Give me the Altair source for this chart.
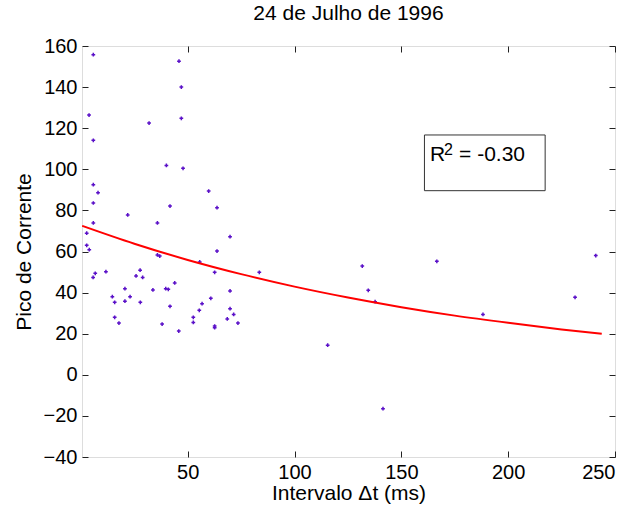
import altair as alt
import pandas as pd

# ---- data ----
dt_ms = [5.8, 45.9, 47.0, 3.8, 31.9, 47.0, 5.8, 40.0, 47.8, 5.8,
         8.0, 59.8, 5.8, 41.7, 63.7, 21.9, 5.8, 35.8, 2.7, 69.8,
         2.7, 3.9, 35.8, 36.9, 63.7, 55.6, 83.5, 62.6, 11.7, 6.7,
         5.7, 27.7, 25.8, 28.9, 43.9, 20.6, 33.7, 39.7, 40.9, 69.8,
         14.7, 23.0, 60.8, 15.8, 20.6, 27.8, 56.7, 41.7, 55.4, 69.8,
         71.5, 15.8, 52.6, 68.5, 17.8, 38.0, 52.6, 62.6, 62.6, 73.5,
         45.8, 131.7, 166.6, 241.0, 134.5, 137.7, 188.2, 231.3, 115.5, 141.4]
pico = [155.8, 152.6, 140.0, 126.4, 122.5, 124.8, 114.1, 101.9, 100.5, 92.5,
        88.6, 89.4, 83.6, 82.1, 81.3, 77.8, 73.9, 73.9, 68.9, 67.2,
        63.0, 60.9, 58.3, 57.8, 60.2, 54.9, 49.9, 49.9, 50.2, 49.4,
        47.4, 50.9, 48.1, 47.4, 44.7, 41.9, 41.3, 41.9, 41.6, 40.8,
        38.0, 38.0, 37.2, 35.3, 35.8, 35.3, 34.6, 33.3, 31.4, 32.2,
        29.4, 28.0, 28.0, 27.2, 25.2, 24.7, 25.5, 23.7, 22.9, 25.2,
        21.3, 52.9, 55.2, 58.0, 41.1, 35.6, 29.4, 37.7, 14.4, -16.5]

fit_x = [0.6, 25, 50, 75, 100, 125, 150, 175, 200, 225, 243.8]
fit_y = [72.5, 63.8, 55.9, 49.0, 42.9, 37.6, 32.9, 28.8, 25.3, 22.1, 20.0]

x_ticks = [50, 100, 150, 200, 250]
y_ticks = [-40, -20, 0, 20, 40, 60, 80, 100, 120, 140, 160]

title_text = "24 de Julho de 1996"
x_title = "Intervalo \u0394t (ms)"
y_title = "Pico de Corrente"
r2_value = "= -0.30"

# ---- layout ----
W, H = 533, 411
FONT = "Liberation Sans"
x_dom = [0.5, 250]
y_dom = [-40, 160]

pts = pd.DataFrame({"dt": dt_ms, "pico": pico})
fit = pd.DataFrame({"dt": fit_x, "pico": fit_y})

xs = alt.Scale(domain=x_dom, nice=False, zero=False)
ys = alt.Scale(domain=y_dom, nice=False, zero=False)

ax_common = dict(domain=False, tickSize=6, offset=-6, tickColor="#222",
                 grid=False, labelFont=FONT, labelFontSize=20, labelColor="#000",
                 titleFont=FONT, titleFontSize=21, titleColor="#000",
                 titleFontWeight="normal")

x_axis = alt.Axis(values=x_ticks, orient="bottom", labelPadding=5, title=x_title,
                  titleX=W / 2, titleY=48, titleBaseline="alphabetic", **ax_common)
y_axis = alt.Axis(values=y_ticks, orient="left", labelPadding=5, title=y_title,
                  titleX=-64, titleY=H / 2, titleAngle=270, titleBaseline="middle",
                  titleAlign="center", **ax_common)

x_axis_top = alt.Axis(values=x_ticks, orient="top", labels=False, title=None,
                      domain=False, tickSize=6, offset=-6, tickColor="#222", grid=False)
y_axis_right = alt.Axis(values=y_ticks, orient="right", labels=False, title=None,
                        domain=False, tickSize=6, offset=-6, tickColor="#222", grid=False)

scatter = alt.Chart(pts).mark_point(shape="cross", filled=True, size=14,
                                    color="#5a10c8", opacity=1).encode(
    x=alt.X("dt:Q", scale=xs, axis=x_axis),
    y=alt.Y("pico:Q", scale=ys, axis=y_axis),
)

line = alt.Chart(fit).mark_line(color="#ff0000", strokeWidth=2,
                                interpolate="monotone").encode(
    x=alt.X("dt:Q", scale=xs, axis=x_axis_top),
    y=alt.Y("pico:Q", scale=ys, axis=y_axis_right),
)

# annotation box (data coordinates)
box_df = pd.DataFrame({"x1": [160.8], "x2": [217.3], "y1": [116.7], "y2": [89.6]})
box = alt.Chart(box_df).mark_rect(fill="white", stroke="#333", strokeWidth=1).encode(
    x=alt.X("x1:Q", scale=xs, axis=None), x2="x2:Q",
    y=alt.Y("y1:Q", scale=ys, axis=None), y2="y2:Q",
)

txt_df = pd.DataFrame({"x": [163.4, 170.0, 177.0], "y": [103.8, 107.2, 103.8],
                       "t": ["R", "2", r2_value], "fs": [21, 16, 21]})
txt = alt.Chart(txt_df).mark_text(align="left", baseline="alphabetic", font=FONT,
                                  color="#000").encode(
    x=alt.X("x:Q", scale=xs, axis=None),
    y=alt.Y("y:Q", scale=ys, axis=None),
    text="t:N",
    size=alt.Size("fs:Q", scale=None, legend=None),
)

chart = alt.layer(scatter, line, box, txt).resolve_axis(
    x="independent", y="independent"
).properties(
    width=W, height=H,
    title=alt.TitleParams(title_text, font=FONT, fontSize=21, fontWeight="normal",
                          color="#000", offset=12, anchor="middle"),
    autosize=alt.AutoSizeParams(type="none"),
    padding={"left": 82, "top": 46, "right": 19, "bottom": 54},
).configure_view(stroke="#222", strokeWidth=1).configure(background="white")

chart.save("out.html", embed_options={"renderer": "svg", "actions": False})
